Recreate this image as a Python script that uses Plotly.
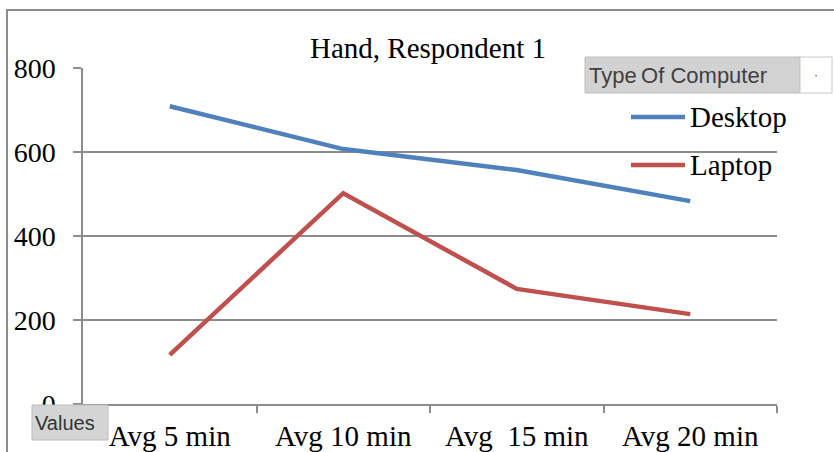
import plotly.graph_objects as go

# Average hand-measurement values per interval, by type of computer
categories = ["Avg 5 min", "Avg 10 min", "Avg\u00a0 15 min", "Avg 20 min"]
desktop = [709, 607, 557, 483]
laptop = [117, 502, 274, 214]
series_names = ["Desktop", "Laptop"]
series_colors = ["#4F81BD", "#C0504D"]
y_ticks = [0, 200, 400, 600, 800]

W, H = 834, 452
L, R, T, B = 83, 57, 68, 48
pw, ph = W - L - R, H - T - B


def px_x(x):
    return (x - L) / pw


def px_y(y):
    return (H - B - y) / ph


serif = "Liberation Serif, Times New Roman, serif"
sans = "Liberation Sans, Arial, sans-serif"
grid = "#8c8c8c"

fig = go.Figure()
for name, vals, col in zip(series_names, [desktop, laptop], series_colors):
    fig.add_trace(go.Scatter(x=categories, y=vals, name=name, mode="lines",
                             line=dict(color=col, width=4.5), showlegend=False))

shapes = [
    # chart frame
    dict(type="rect", xref="paper", yref="paper",
         x0=px_x(7), x1=px_x(850), y0=px_y(470), y1=px_y(10),
         line=dict(color="#8c8c8c", width=2), fillcolor="rgba(0,0,0,0)", layer="below"),
    # field button for the series field
    dict(type="rect", xref="paper", yref="paper",
         x0=px_x(585), x1=px_x(800), y0=px_y(93), y1=px_y(57),
         line=dict(color="#bdbdbd", width=1), fillcolor="#d2d2d2", layer="above"),
    dict(type="rect", xref="paper", yref="paper",
         x0=px_x(800), x1=px_x(832), y0=px_y(93), y1=px_y(57),
         line=dict(color="#c8c8c8", width=1), fillcolor="#ffffff", layer="above"),
    # field button for values
    dict(type="rect", xref="paper", yref="paper",
         x0=px_x(32), x1=px_x(108), y0=px_y(440), y1=px_y(405),
         line=dict(color="#bdbdbd", width=1), fillcolor="#d4d4d4", layer="above"),
]

annotations = [
    dict(text="Type\u2009Of Computer", xref="paper", yref="paper",
         x=px_x(587), y=px_y(75), xanchor="left", yanchor="middle", showarrow=False,
         font=dict(family=sans, size=22, color="#404040")),
    dict(text="\u00b7", xref="paper", yref="paper",
         x=px_x(816), y=px_y(75), xanchor="center", yanchor="middle", showarrow=False,
         font=dict(family=sans, size=12, color="#404040")),
    dict(text="Values", xref="paper", yref="paper",
         x=px_x(33), y=px_y(423), xanchor="left", yanchor="middle", showarrow=False,
         font=dict(family=sans, size=20, color="#333333")),
]

# legend drawn as line samples with labels
for i, (name, col) in enumerate(zip(series_names, series_colors)):
    yy = 117 + i * 48
    shapes.append(dict(type="line", xref="paper", yref="paper",
                       x0=px_x(631), x1=px_x(685), y0=px_y(yy), y1=px_y(yy),
                       line=dict(color=col, width=4.5), layer="above"))
    annotations.append(dict(text=name, xref="paper", yref="paper",
                            x=px_x(688), y=px_y(yy), xanchor="left", yanchor="middle",
                            showarrow=False, font=dict(family=serif, size=29, color="#000000")))

fig.update_layout(
    width=W, height=H,
    margin=dict(l=L, r=R, t=T, b=B, autoexpand=False),
    paper_bgcolor="#ffffff", plot_bgcolor="#ffffff",
    title=dict(text="Hand, Respondent 1", xref="container", x=428 / W, xanchor="center",
               y=1 - 48 / H, yanchor="middle", automargin=False,
               font=dict(family=serif, size=29, color="#000000")),
    shapes=shapes, annotations=annotations,
    xaxis=dict(type="category", range=[-0.5, 3.5], showgrid=False, automargin=False,
               showline=True, linecolor=grid, linewidth=1.5,
               ticks="outside", ticklen=7, tickcolor=grid, tickwidth=1.5,
               tickson="boundaries", ticklabelstandoff=5,
               tickfont=dict(family=serif, size=29, color="#000000")),
    yaxis=dict(range=[0, 800], tickvals=y_ticks, showgrid=True, automargin=False,
               gridcolor=grid, gridwidth=1.5, zeroline=False,
               showline=True, linecolor=grid, linewidth=1.5,
               ticks="outside", ticklen=8, tickcolor=grid, tickwidth=1.5,
               ticklabelstandoff=12,
               tickfont=dict(family=serif, size=28, color="#000000")),
)

fig.write_html("out.html")
